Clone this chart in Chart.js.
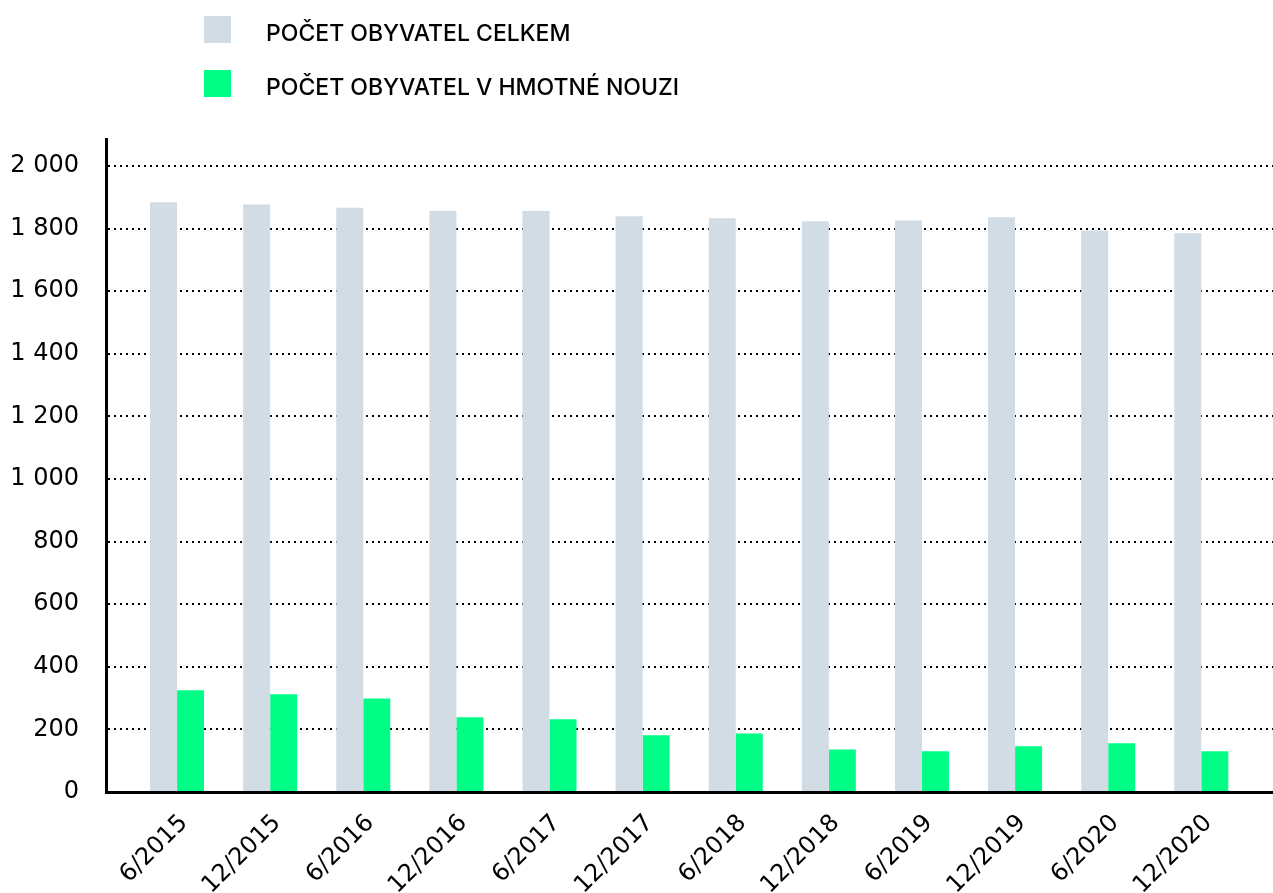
<!DOCTYPE html>
<html>
<head>
<meta charset="utf-8">
<script src="https://cdn.jsdelivr.net/npm/chart.js@4"></script>
<style>
  html, body { margin: 0; padding: 0; background: #fff; }
  #wrap { position: relative; width: 1273px; height: 893px; }
  #legend { position: absolute; left: 204px; top: 16px; font-family: Inter, sans-serif; font-size: 23px; font-weight: 500; color: #000; }
  .item { position: relative; height: 27px; margin-bottom: 27px; }
  .box { position: absolute; left: 0; top: 0; width: 27px; height: 27px; }
  .txt { position: absolute; left: 62px; top: 4px; line-height: 27px; white-space: nowrap; }
  #c { position: absolute; left: 0; top: 0; }
</style>
</head>
<body>
<div id="wrap">
  <canvas id="c" width="1273" height="893"></canvas>
  <div id="legend"></div>
</div>
<script>
const labels = ["6/2015", "12/2015", "6/2016", "12/2016", "6/2017", "12/2017",
                "6/2018", "12/2018", "6/2019", "12/2019", "6/2020", "12/2020"];
const totalPop = [1884, 1877, 1866, 1856, 1856, 1839, 1833, 1823, 1826, 1836, 1794, 1785];
const needPop = [325, 312, 299, 239, 232, 181, 187, 136, 130, 146, 156, 130];
const seriesNames = ["POČET OBYVATEL CELKEM", "POČET OBYVATEL V HMOTNÉ NOUZI"];
const seriesColors = ["#d1dce5", "#00fe87"];
const yTicks = [0, 200, 400, 600, 800, 1000, 1200, 1400, 1600, 1800, 2000];

// legend as plain html, stacked like the original
const legendEl = document.getElementById("legend");
seriesNames.forEach((name, i) => {
    const item = document.createElement("div");
    item.className = "item";
    item.innerHTML = '<div class="box" style="background:' + seriesColors[i] + '"></div><div class="txt">' + name + '</div>';
    legendEl.appendChild(item);
});

const toPoints = arr => arr.map((v, i) => ({ x: i, y: v }));
const tickFont = { family: "'DejaVu Sans', sans-serif", size: 24 };

new Chart(document.getElementById("c"), {
    type: 'bar',
    data: {
        datasets: [
            { label: seriesNames[0], data: toPoints(totalPop), backgroundColor: seriesColors[0] },
            { label: seriesNames[1], data: toPoints(needPop), backgroundColor: seriesColors[1] }
        ]
    },
    options: {
        responsive: false,
        animation: false,
        events: [],
        categoryPercentage: 0.58,
        barPercentage: 1,
        layout: { padding: { top: 139, right: 0, left: 0, bottom: 0 } },
        plugins: { legend: { display: false }, tooltip: { enabled: false } },
        scales: {
            x: {
                type: 'linear',
                offset: false,
                min: -0.763,
                max: 11.77,
                afterBuildTicks: s => { s.ticks = labels.map((_, i) => ({ value: i })); },
                afterFit: s => { s.height = 101; },
                grid: { display: false, offset: false },
                border: { display: true, color: '#000', width: 3 },
                ticks: {
                    color: '#000',
                    font: tickFont,
                    maxRotation: 45,
                    minRotation: 45,
                    autoSkip: false,
                    padding: 9,
                    labelOffset: 7,
                    callback: v => labels[v]
                }
            },
            y: {
                min: 0,
                max: 2086,
                z: 1,
                afterBuildTicks: s => { s.ticks = yTicks.map(v => ({ value: v })); },
                afterFit: s => { s.width = 106; },
                grid: { color: '#000', lineWidth: 2, drawTicks: false },
                border: { display: true, color: '#000', width: 3, dash: [2, 4] },
                ticks: {
                    color: '#000',
                    font: tickFont,
                    padding: 27,
                    callback: v => String(v).replace(/\B(?=(\d{3})+(?!\d))/g, ' ')
                }
            }
        }
    }
});
</script>
</body>
</html>
